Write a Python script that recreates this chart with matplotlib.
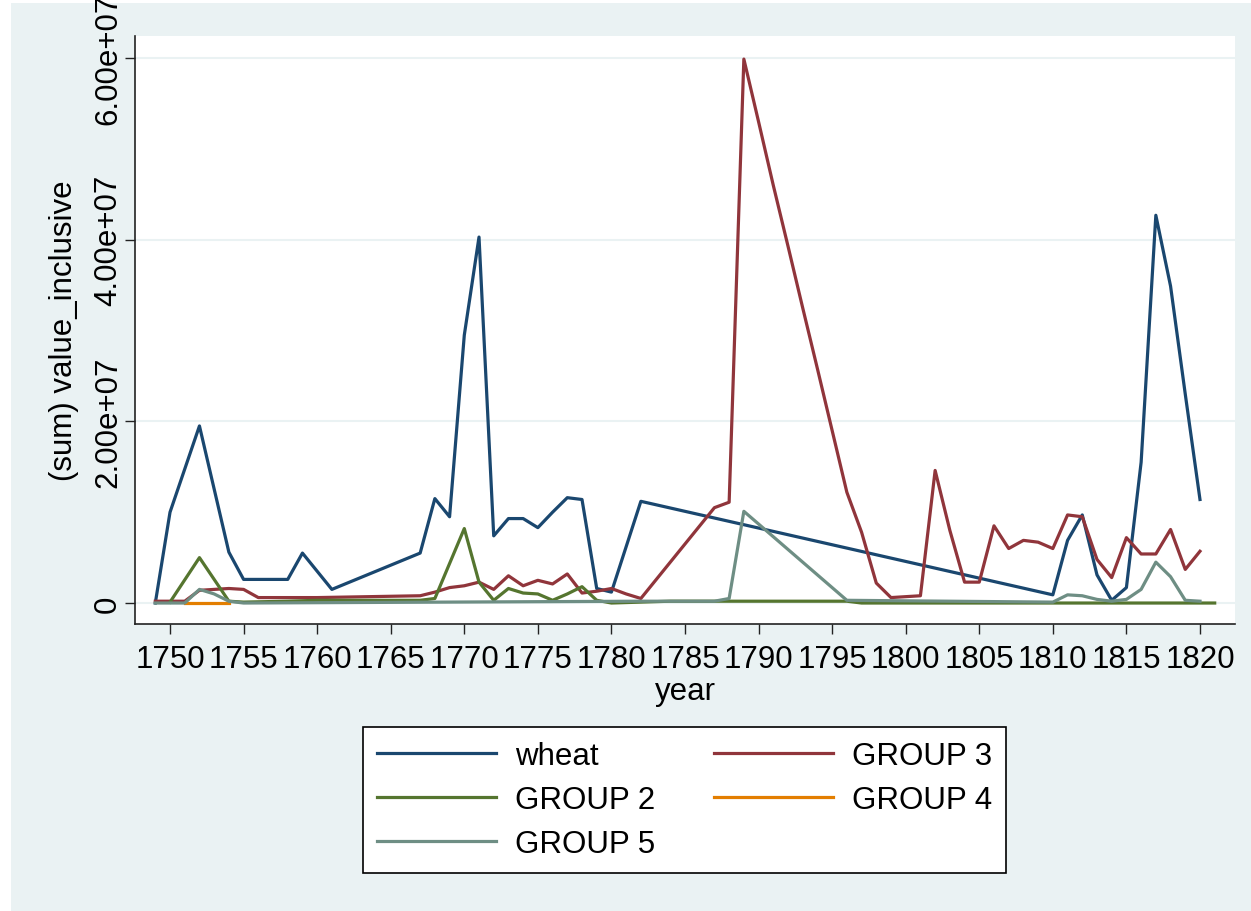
import matplotlib.pyplot as plt
from matplotlib.patches import Rectangle

plt.rcParams['font.family'] = ['Liberation Sans', 'DejaVu Sans']

# values in units of 1e7
wheat_years = [1749, 1750, 1752, 1754, 1755, 1758, 1759, 1761, 1767, 1768, 1769, 1770,
               1771, 1772, 1773, 1774, 1775, 1776, 1777, 1778, 1779, 1780, 1782, 1810,
               1811, 1812, 1813, 1814, 1815, 1816, 1817, 1818, 1819, 1820]
wheat_vals = [0.0, 1.0, 1.95, 0.56, 0.26, 0.26, 0.55, 0.15, 0.55, 1.15, 0.95, 2.95,
              4.03, 0.74, 0.93, 0.93, 0.83, 1.0, 1.16, 1.14, 0.16, 0.12, 1.12, 0.09,
              0.69, 0.97, 0.31, 0.03, 0.17, 1.55, 4.27, 3.49, 2.3, 1.14]

g3_years = [1749, 1750, 1751, 1752, 1753, 1754, 1755, 1756, 1760, 1767, 1768, 1769,
            1770, 1771, 1772, 1773, 1774, 1775, 1776, 1777, 1778, 1779, 1780, 1781,
            1782, 1787, 1788, 1789, 1790, 1791, 1792, 1793, 1794, 1795, 1796, 1797,
            1798, 1799, 1800, 1801, 1802, 1803, 1804, 1805, 1806, 1807, 1808, 1809,
            1810, 1811, 1812, 1813, 1814, 1815, 1816, 1817, 1818, 1819, 1820]
g3_vals = [0.02, 0.02, 0.02, 0.14, 0.15, 0.16, 0.15, 0.06, 0.06, 0.08, 0.12, 0.17,
           0.19, 0.23, 0.15, 0.3, 0.19, 0.25, 0.21, 0.32, 0.11, 0.13, 0.16, 0.1,
           0.05, 1.05, 1.11, 5.99, 5.3, 4.6, 3.93, 3.25, 2.58, 1.9, 1.22, 0.78,
           0.22, 0.06, 0.07, 0.08, 1.46, 0.8, 0.23, 0.23, 0.85, 0.6, 0.69, 0.67,
           0.6, 0.97, 0.95, 0.48, 0.28, 0.72, 0.54, 0.54, 0.81, 0.37, 0.57]

g2_years = [1750, 1752, 1754, 1755, 1758, 1760, 1767, 1768, 1770, 1771, 1772, 1773,
            1774, 1775, 1776, 1777, 1778, 1779, 1780, 1784, 1796, 1797, 1810, 1821]
g2_vals = [0.01, 0.5, 0.02, 0.01, 0.02, 0.03, 0.03, 0.05, 0.82, 0.23, 0.03, 0.16,
           0.11, 0.1, 0.03, 0.1, 0.18, 0.03, 0.0, 0.02, 0.02, 0.0, 0.0, 0.0]

g4_years = [1751, 1752, 1753, 1754]
g4_vals = [0.0, 0.0, 0.0, 0.0]

g5_years = [1749, 1751, 1752, 1753, 1754, 1755, 1782, 1787, 1788, 1789, 1796, 1810,
            1811, 1812, 1813, 1814, 1815, 1816, 1817, 1818, 1819, 1820]
g5_vals = [0.0, 0.0, 0.15, 0.1, 0.02, 0.0, 0.02, 0.02, 0.05, 1.01, 0.03, 0.01,
           0.09, 0.08, 0.04, 0.02, 0.04, 0.15, 0.45, 0.29, 0.03, 0.02]

xticks = list(range(1750, 1821, 5))
yticks = [0, 2, 4, 6]
ytick_labels = ['0', '2.00e+07', '4.00e+07', '6.00e+07']

bg = '#eaf2f3'
fig = plt.figure(figsize=(12.51, 9.12), dpi=100, facecolor='white')
fig.patches.append(Rectangle((11 / 1251, 0), 1, 1 - 4 / 912, transform=fig.transFigure,
                             facecolor=bg, edgecolor='none', zorder=-10))
ax = fig.add_axes([135 / 1251, 1 - 625 / 912, 1100 / 1251, 588 / 912])
ax.set_facecolor('white')

s = 1e7
l1, = ax.plot(wheat_years, [v * s for v in wheat_vals], color='#1a476f', lw=2.3, label='wheat')
l3, = ax.plot(g3_years, [v * s for v in g3_vals], color='#90353b', lw=2.3, label='GROUP 3')
l2, = ax.plot(g2_years, [v * s for v in g2_vals], color='#55752f', lw=2.3, label='GROUP 2')
l4, = ax.plot(g4_years, [v * s for v in g4_vals], color='#e37e00', lw=2.3, label='GROUP 4')
l5, = ax.plot(g5_years, [v * s for v in g5_vals], color='#6e8e84', lw=2.3, label='GROUP 5')

ax.set_xlim(1747.62, 1822.38)
ax.set_ylim(-0.231e7, 6.244e7)
ax.set_xticks(xticks)
ax.set_xticklabels([str(t) for t in xticks], fontsize=22.5)
ax.set_yticks([t * s for t in yticks])
ax.set_yticklabels(ytick_labels, fontsize=22.5, rotation=90, va='center')
ax.tick_params(axis='both', length=7.5, width=1, color='#222222')
ax.tick_params(axis='x', pad=7)
ax.tick_params(axis='y', pad=1)
ax.grid(axis='y', color=bg, lw=1.5)
ax.set_axisbelow(True)
for side in ['top', 'right']:
    ax.spines[side].set_visible(False)
for side in ['left', 'bottom']:
    ax.spines[side].set_color('#222222')
    ax.spines[side].set_linewidth(1.2)

ax.set_xlabel('year', fontsize=22.5, labelpad=1)
ax.set_ylabel('(sum) value_inclusive', fontsize=22.5, labelpad=10)

leg = ax.legend([l1, l2, l5, l3, l4], ['wheat', 'GROUP 2', 'GROUP 5', 'GROUP 3', 'GROUP 4'],
                ncol=2, fontsize=22.5, loc='upper left',
                bbox_to_anchor=(363 / 1251, 1 - 728 / 912), bbox_transform=fig.transFigure,
                borderaxespad=0, frameon=True, fancybox=False, framealpha=1,
                edgecolor='black', handlelength=3.8, handletextpad=0.6,
                columnspacing=1.9, labelspacing=0.45, borderpad=0.45)
leg.get_frame().set_linewidth(1.2)

plt.savefig('out.png', dpi=100, facecolor=fig.get_facecolor())
